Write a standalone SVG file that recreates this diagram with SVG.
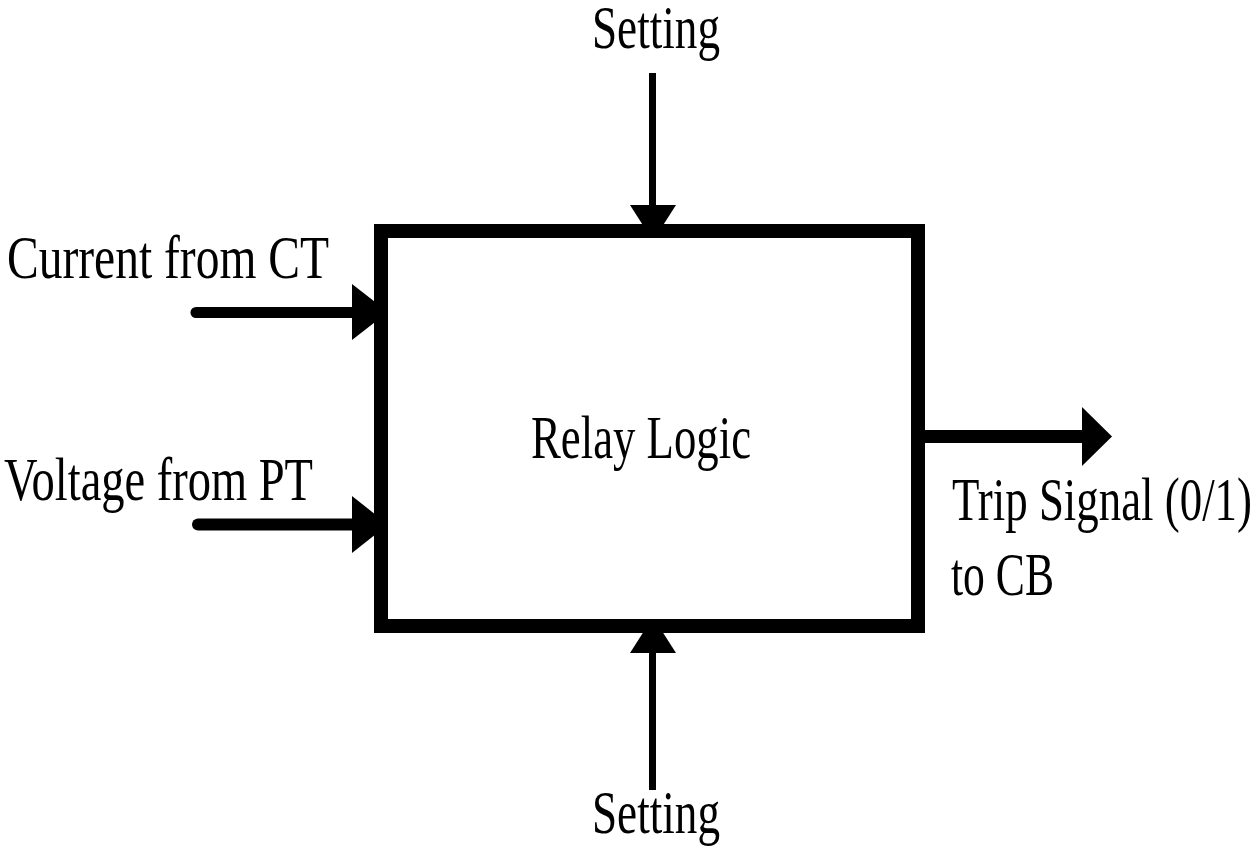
<svg xmlns="http://www.w3.org/2000/svg" width="1260" height="850" viewBox="0 0 1260 850">
  <style>
    .lbl { font-family: "Liberation Serif", "Times New Roman", serif; font-size: 62px; fill: #000; }
    .wire { stroke: #000; fill: none; }
    .head { fill: #000; stroke: none; }
    .box { fill: #fff; stroke: #000; stroke-width: 14; }
  </style>
  <rect width="1260" height="850" fill="#fff"/>

  <!-- signal lines and arrowheads -->
  <g id="connectors">
    <!-- setting from above -->
    <line class="wire" x1="652.5" y1="73" x2="652.5" y2="210" stroke-width="7"/>
    <polygon class="head" points="630,205 676,205 653,241"/>
    <!-- setting from below -->
    <line class="wire" x1="652.5" y1="790" x2="652.5" y2="648" stroke-width="7"/>
    <polygon class="head" points="630,653 676,653 653,617"/>
    <!-- current input -->
    <line class="wire" x1="196" y1="312.5" x2="360" y2="312.5" stroke-width="11" stroke-linecap="round"/>
    <polygon class="head" points="352,284 352,340 388,312"/>
    <!-- voltage input -->
    <line class="wire" x1="198" y1="524.5" x2="360" y2="524.5" stroke-width="12" stroke-linecap="round"/>
    <polygon class="head" points="352,496 352,553 388,524.5"/>
    <!-- trip output -->
    <line class="wire" x1="918" y1="436.5" x2="1090" y2="436.5" stroke-width="13"/>
    <polygon class="head" points="1082,407 1082,466 1112,436.5"/>
  </g>

  <g id="relay-logic">
    <rect class="box" x="381" y="231" width="537" height="395"/>
    <text class="lbl" x="531" y="458" textLength="220" lengthAdjust="spacingAndGlyphs">Relay Logic</text>
  </g>

  <g id="setting-top">
    <text class="lbl" x="592" y="48" textLength="128" lengthAdjust="spacingAndGlyphs">Setting</text>
  </g>
  <g id="setting-bottom">
    <text class="lbl" x="592" y="833" textLength="128" lengthAdjust="spacingAndGlyphs">Setting</text>
  </g>
  <g id="current-ct">
    <text class="lbl" x="7" y="278" textLength="322" lengthAdjust="spacingAndGlyphs">Current from CT</text>
  </g>
  <g id="voltage-pt">
    <text class="lbl" x="4" y="500" textLength="309" lengthAdjust="spacingAndGlyphs">Voltage from PT</text>
  </g>
  <g id="trip-signal">
    <text class="lbl" x="952" y="520" textLength="300" lengthAdjust="spacingAndGlyphs">Trip Signal (0/1)</text>
    <text class="lbl" x="951" y="595" textLength="103" lengthAdjust="spacingAndGlyphs">to CB</text>
  </g>
</svg>
